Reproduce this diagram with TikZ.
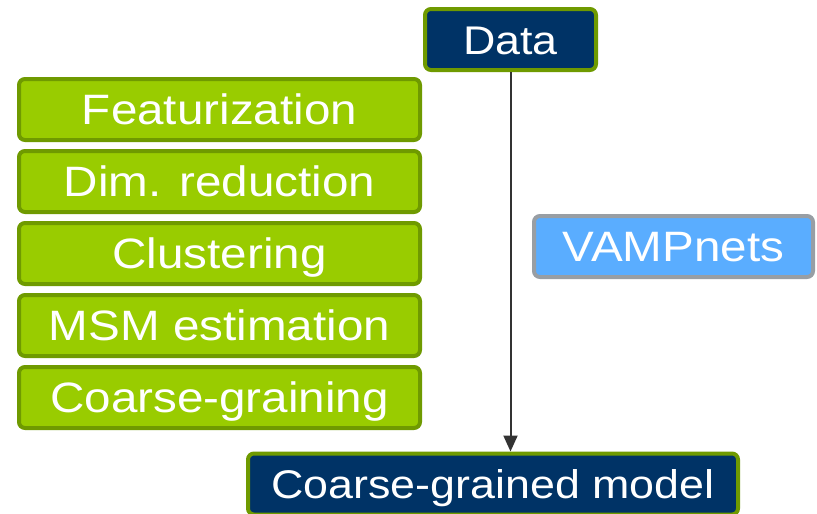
\documentclass[tikz,border=0pt]{standalone}
\usepackage{fontspec}
\setmainfont[FakeStretch=1.12]{Liberation Sans}
\usetikzlibrary{arrows.meta}
\definecolor{navy}{HTML}{003366}
\definecolor{limegreen}{HTML}{99CC00}
\definecolor{olivebd}{HTML}{6F9A00}
\definecolor{skyfill}{HTML}{5AADFF}
\definecolor{greybd}{HTML}{989EA4}
\definecolor{arrowgrey}{HTML}{333333}
\tikzset{
  boxbase/.style={rectangle, rounded corners=6pt, line width=4pt, text=white,
    font=\fontsize{40}{48}\selectfont, text height=29pt, text depth=0pt,
    inner sep=0pt, minimum height=61pt},
  navybox/.style={boxbase, fill=navy, draw=olivebd},
  bigtext/.style={font=\fontsize{42.5}{50}\selectfont, text height=30.5pt},
  stepbox/.style={boxbase, bigtext, fill=limegreen, draw=olivebd, minimum width=401pt},
  bluebox/.style={boxbase, bigtext, fill=skyfill, draw=greybd},
  flow/.style={line width=2pt, draw=arrowgrey, -{Triangle[width=14pt,length=16pt]}}
}
\begin{document}
\begin{tikzpicture}[x=1pt,y=-1pt]
\clip (0,0) rectangle (817,514);
\fill[white] (0,0) rectangle (817,514);
\node[navybox, minimum width=171pt] (data) at (510.5,39.5) {Data};
\node[stepbox] (feat) at (219.5,109.5) {Featurization};
\node[stepbox] (dim) at (219.5,181.5) {Dim. reduction};
\node[stepbox] (clus) at (219.5,253.5) {Clustering};
\node[stepbox] (msm) at (219.5,325.5) {MSM estimation};
\node[stepbox] (cg) at (219.5,397.5) {Coarse-graining};
\node[bluebox, minimum width=279pt] (vamp) at (673.5,246.5) {VAMPnets};
\node[navybox, minimum width=490pt] (model) at (493,484) {Coarse-grained model};
\draw[flow] (data.south) -- (data.south |- model.north);
\end{tikzpicture}
\end{document}
